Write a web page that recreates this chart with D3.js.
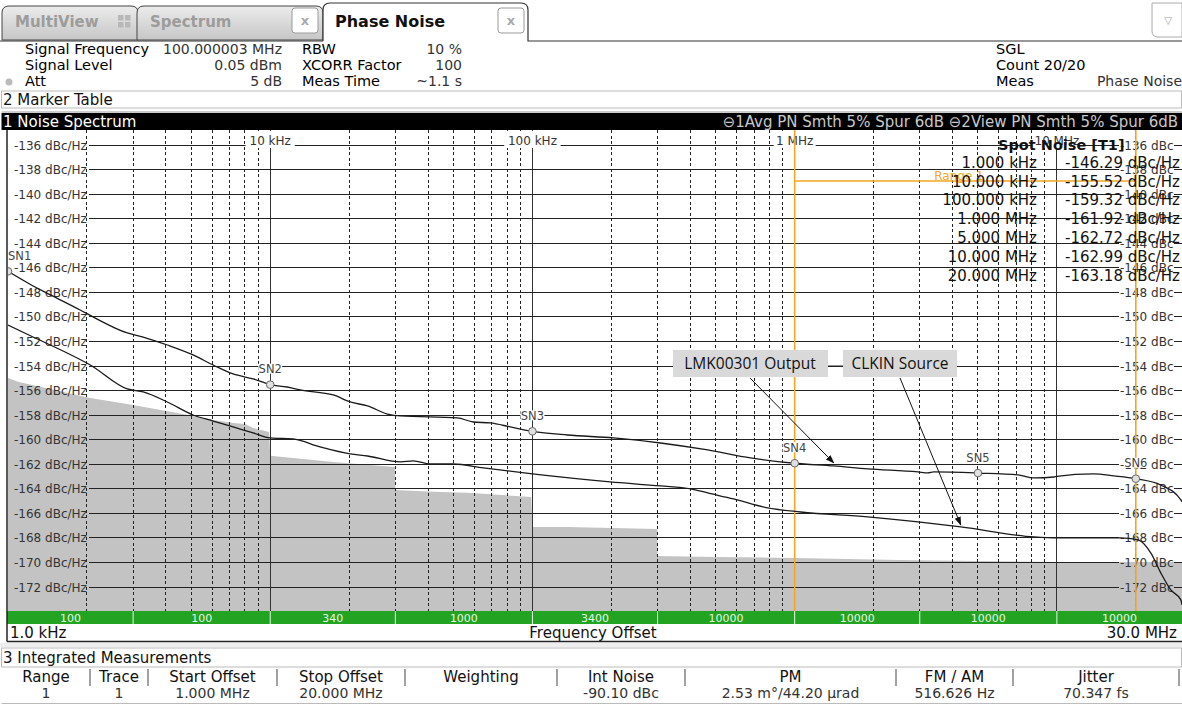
<!DOCTYPE html>
<html><head><meta charset="utf-8">
<script src="https://cdn.jsdelivr.net/npm/d3@7"></script>
<style>
html,body{margin:0;padding:0;background:#fff;overflow:hidden}
svg{display:block;font-family:"DejaVu Sans",Verdana,sans-serif}
</style></head><body>
<svg id="c" width="1182" height="706"></svg>
<script>
// ---------------- DATA ----------------
const freqDomain = [1e3, 3e7];
const dbTicks = [-136,-138,-140,-142,-144,-146,-148,-150,-152,-154,-156,-158,-160,-162,-164,-166,-168,-170,-172];
const decadeFreqs = [1e4, 1e5, 1e6, 1e7];
const decadeLabels = ["10 kHz", "100 kHz", "1 MHz", "10 MHz"];
const rbwBounds = [1e3, 3e3, 1e4, 3e4, 1e5, 3e5, 1e6, 3e6, 1e7, 3e7];
const rbwLabels = ["100", "100", "340", "1000", "3400", "10000", "10000", "10000", "10000"];

// Trace 1: LMK00301 Output  [offset Hz, dBc/Hz]
const traceOutput = [
  [1000,-146.29],[1213,-147.34],[1446,-148.19],[1883,-149.44],[2110,-150.0],[2850,-151.31],
  [3280,-151.64],[4050,-152.29],[5080,-153.10],[6060,-153.92],[7220,-154.65],[8610,-155.05],
  [10000,-155.52],[11600,-155.71],[13000,-155.95],[17400,-156.36],[20200,-156.93],[23500,-157.25],
  [28000,-157.91],[31400,-158.07],[51700,-158.23],[59500,-158.56],[69100,-158.64],[82400,-158.96],
  [100000,-159.32],[136000,-159.62],[204000,-159.86],[308000,-160.27],[466000,-160.84],[679000,-161.49],
  [1000000,-161.92],[1410000,-162.14],[1900000,-162.38],[2950000,-162.63],[3220000,-162.71],[3390000,-162.63],
  [5000000,-162.72],[7100000,-162.87],[8170000,-163.12],[9740000,-163.04],[10000000,-162.99],
  [13800000,-162.79],[16500000,-162.95],[20000000,-163.18],[24900000,-163.69],[29700000,-164.91],[30000000,-165.07]
];
// Trace 2: CLKIN Source
const traceSource = [
  [1000,-150.66],[1246,-151.64],[1680,-152.94],[2060,-153.92],[2850,-155.87],[3280,-156.11],
  [4050,-156.93],[5080,-157.99],[6060,-158.48],[7220,-158.96],[8610,-159.45],[10000,-159.86],
  [12200,-159.94],[15500,-160.59],[20200,-161.16],[23500,-161.33],[31400,-161.81],[35100,-161.73],
  [40800,-161.98],[49900,-161.98],[65000,-162.30],[100000,-162.79],[198000,-163.44],[308000,-163.77],
  [401000,-164.01],[466000,-164.34],[585000,-164.83],[789000,-165.56],[1054000,-165.89],[1900000,-166.29],
  [4300000,-167.11],[8170000,-167.92],[10000000,-168.0],[17500000,-168.0],[20400000,-168.17],
  [22800000,-169.22],[24900000,-170.85],[27200000,-172.24],[29700000,-173.05],[30000000,-173.46]
];
// Cross-correlation floor (gray)
const floorTrace = [
  [1000,-154.97],[1100,-155.3],[2060,-156.6],[3000,-157.17],[4420,-157.82],[6060,-158.39],
  [7220,-158.64],[8030,-158.72],[8610,-159.05],[9900,-159.37],[10000,-161.32],[17400,-161.81],
  [29900,-162.22],[30000,-164.09],[41900,-164.25],[56500,-164.33],[99000,-164.66],[100000,-167.11],
  [136000,-167.11],[299000,-167.27],[300000,-169.47],[500000,-169.55],[1000000,-169.63],
  [2500000,-169.80],[10000000,-169.96],[30000000,-169.96]
];
const markerNames = ["SN1","SN2","SN3","SN4","SN5","SN6"];
const markerFreqs = [1e3, 1e4, 1e5, 1e6, 5e6, 2e7];
const markerVals = [-146.29, -155.52, -159.32, -161.92, -162.72, -163.18];
const spotFreqLabels = ["1.000 kHz","10.000 kHz","100.000 kHz","1.000 MHz","5.000 MHz","10.000 MHz","20.000 MHz"];
const spotValueLabels = ["-146.29 dBc/Hz","-155.52 dBc/Hz","-159.32 dBc/Hz","-161.92 dBc/Hz","-162.72 dBc/Hz","-162.99 dBc/Hz","-163.18 dBc/Hz"];
const rangeStart = 1e6, rangeStop = 2e7;
const intHeaders = ["Range","Trace","Start Offset","Stop Offset","Weighting","Int Noise","PM","FM / AM","Jitter"];
const intValues = ["1","1","1.000 MHz","20.000 MHz","","-90.10 dBc","2.53 m°/44.20 µrad","516.626 Hz","70.347 fs"];
const intSeps = [90,148,277,405,557,685,896,1013,1179];

// ---------------- LAYOUT ----------------
const svg = d3.select("#c");
const PL = 7, PR = 1182, PT = 130, PB = 611;
const x = d3.scaleLog().domain(freqDomain).range([8, 1182]);
const y = d3.scaleLinear().domain([-136, -172]).range([145, 587]);
const ORANGE = "#f5a623";
const defs = svg.append("defs");
const g1 = defs.append("linearGradient").attr("id","tabg").attr("x1",0).attr("y1",0).attr("x2",0).attr("y2",1);
g1.append("stop").attr("offset","0%").attr("stop-color","#ececec");
g1.append("stop").attr("offset","100%").attr("stop-color","#c6c6c6");
defs.append("clipPath").attr("id","pclip").append("rect").attr("x",PL+1).attr("y",PT).attr("width",PR-PL).attr("height",PB-PT);
defs.append("marker").attr("id","arr").attr("viewBox","0 0 10 10").attr("refX",9).attr("refY",5)
  .attr("markerWidth",9).attr("markerHeight",9).attr("orient","auto-start-reverse")
  .append("path").attr("d","M0,1.5 L10,5 L0,8.5 z").attr("fill","#111");

// ---- tabs ----
function tabPath(x0,x1,y0,y1,r){return `M${x0},${y1} L${x0},${y0+r} Q${x0},${y0} ${x0+r},${y0} L${x1-r},${y0} Q${x1},${y0} ${x1},${y0+r} L${x1},${y1}`;}
const tabs = svg.append("g");
tabs.append("path").attr("d",tabPath(2,138,6,40,7)+" Z").attr("fill","url(#tabg)").attr("stroke","#444");
tabs.append("path").attr("d",tabPath(137,323,6,40,7)+" Z").attr("fill","url(#tabg)").attr("stroke","#444");
tabs.append("path").attr("d",tabPath(323,528,3,41,7)+` L1182,41`).attr("fill","#fff").attr("stroke","#333").attr("stroke-width",1.2);
tabs.append("line").attr("x1",0).attr("x2",323).attr("y1",41).attr("y2",41).attr("stroke","#333");
tabs.append("text").attr("x",15).attr("y",27).attr("font-size",15).attr("font-weight","bold").attr("fill","#9c9c9c").text("MultiView");
[[118,15],[125,15],[118,22],[125,22]].forEach(p=>tabs.append("rect").attr("x",p[0]).attr("y",p[1]).attr("width",5.5).attr("height",5.5).attr("fill","#b8b8b8"));
tabs.append("text").attr("x",150).attr("y",27).attr("font-size",15).attr("font-weight","bold").attr("fill","#9c9c9c").text("Spectrum");
tabs.append("text").attr("x",335).attr("y",27).attr("font-size",16).attr("font-weight","bold").attr("fill","#111").text("Phase Noise");
[[292,8],[498,8]].forEach(p=>{
  tabs.append("rect").attr("x",p[0]).attr("y",p[1]).attr("width",26).attr("height",25).attr("rx",3).attr("fill","#fff").attr("stroke","#999");
  tabs.append("text").attr("x",p[0]+13).attr("y",p[1]+17).attr("text-anchor","middle").attr("font-size",13).attr("font-weight","bold").attr("fill","#aaa").text("x");
});
tabs.append("path").attr("d","M1152,3 L1182,3 L1182,37 L1158,37 Q1152,37 1152,31 Z").attr("fill","#fff").attr("stroke","#aaa");
tabs.append("text").attr("x",1168).attr("y",24).attr("text-anchor","middle").attr("font-size",10).attr("fill","#999").text("▽");

// ---- header info ----
const hdr = svg.append("g").attr("font-size",14.5);
const hRows = [54,70,86];
[["Signal Frequency","100.000003 MHz","RBW","10 %"],["Signal Level","0.05 dBm","XCORR Factor","100"],["Att","5 dB","Meas Time","~1.1 s"]].forEach((r,i)=>{
  hdr.append("text").attr("x",25).attr("y",hRows[i]).attr("fill","#000").text(r[0]);
  hdr.append("text").attr("x",282).attr("y",hRows[i]).attr("text-anchor","end").attr("font-size",14).attr("fill","#333").text(r[1]);
  hdr.append("text").attr("x",302).attr("y",hRows[i]).attr("fill","#000").text(r[2]);
  hdr.append("text").attr("x",462).attr("y",hRows[i]).attr("text-anchor","end").attr("font-size",14).attr("fill","#333").text(r[3]);
});
hdr.append("circle").attr("cx",9).attr("cy",82).attr("r",3.5).attr("fill","#bbb");
hdr.append("text").attr("x",996).attr("y",54).attr("fill","#000").text("SGL");
hdr.append("text").attr("x",996).attr("y",70).attr("fill","#000").text("Count 20/20");
hdr.append("text").attr("x",996).attr("y",86).attr("fill","#000").text("Meas");
hdr.append("text").attr("x",1182).attr("y",86).attr("text-anchor","end").attr("font-size",14).attr("fill","#333").text("Phase Noise");

// ---- marker table bar & black bar ----
svg.append("rect").attr("x",1.5).attr("y",91).attr("width",1180).attr("height",17).attr("fill","#fff").attr("stroke","#bbb");
svg.append("text").attr("x",3).attr("y",105).attr("font-size",15).attr("fill","#111").text("2 Marker Table");
svg.append("rect").attr("x",1.5).attr("y",111).attr("width",1180.5).attr("height",2).attr("fill","#ccc");
svg.append("rect").attr("x",1.5).attr("y",113).attr("width",1180.5).attr("height",17).attr("fill","#000");
svg.append("text").attr("x",3).attr("y",127).attr("font-size",15).attr("fill","#fff").text("1 Noise Spectrum");
svg.append("text").attr("x",1178).attr("y",127).attr("font-size",15).attr("text-anchor","end").attr("fill","#c8c8c8")
  .text("⊖1Avg PN Smth 5% Spur 6dB ⊖2View PN Smth 5% Spur 6dB");

// ---- plot ----
const plot = svg.append("g");
plot.append("rect").attr("x",PL).attr("y",PT).attr("width",PR-PL).attr("height",PB-PT).attr("fill","#fff");
const area = d3.area().x(d=>x(d[0])).y0(PB).y1(d=>y(d[1]));
plot.append("path").datum(floorTrace).attr("d",area).attr("fill","#c3c3c3").attr("clip-path","url(#pclip)");

// vertical grid
const minor = [];
[1e3,1e4,1e5,1e6,1e7].forEach(dec=>{for(let m=2;m<=9;m++){const f=dec*m; if(f<3e7) minor.push(f);}});
plot.selectAll(".vmin").data(minor).join("line").attr("x1",d=>x(d)).attr("x2",d=>x(d)).attr("y1",PT).attr("y2",PB)
  .attr("stroke","#222").attr("stroke-dasharray","3,2.5").attr("shape-rendering","crispEdges");
plot.selectAll(".vmaj").data(decadeFreqs).join("line").attr("x1",d=>x(d)).attr("x2",d=>x(d)).attr("y1",PT).attr("y2",PB)
  .attr("stroke","#333").attr("shape-rendering","crispEdges");
// horizontal grid
plot.selectAll(".h1").data(dbTicks).join("line").attr("x1",89).attr("x2",1119).attr("y1",d=>y(d)).attr("y2",d=>y(d))
  .attr("stroke","#222").attr("shape-rendering","crispEdges");
plot.selectAll(".h2").data(dbTicks).join("line").attr("x1",1174).attr("x2",PR).attr("y1",d=>y(d)).attr("y2",d=>y(d))
  .attr("stroke","#222").attr("shape-rendering","crispEdges");

// decade labels with knockout
const dl = plot.selectAll(".dl").data(decadeFreqs).join("g");
dl.append("rect").attr("x",(d,i)=>x(d)-decadeLabels[i].length*3.6-3).attr("y",PT+1).attr("width",(d,i)=>decadeLabels[i].length*7.2+6).attr("height",17).attr("fill","#fff");
dl.append("text").attr("x",d=>x(d)).attr("y",PT+15).attr("text-anchor","middle").attr("font-size",12).attr("fill","#333").text((d,i)=>decadeLabels[i]);

// y labels
plot.selectAll(".yl").data(dbTicks).join("text").attr("x",14).attr("y",d=>y(d)+4.5).attr("font-size",12).attr("fill","#333").text(d=>`${d} dBc/Hz`);
plot.selectAll(".yr").data(dbTicks).join("text").attr("x",1120).attr("y",d=>y(d)+4.5).attr("font-size",12).attr("fill","#333").text(d=>`${d} dBc`);

// orange range lines
const rangeBarY = 181;
plot.append("line").attr("x1",x(rangeStart)).attr("x2",x(rangeStart)).attr("y1",PT).attr("y2",PB).attr("stroke",ORANGE).attr("stroke-width",1.6);
plot.append("line").attr("x1",x(rangeStop)).attr("x2",x(rangeStop)).attr("y1",PT).attr("y2",PB).attr("stroke",ORANGE).attr("stroke-width",1.6);
plot.append("line").attr("x1",x(rangeStart)).attr("x2",x(rangeStop)).attr("y1",rangeBarY).attr("y2",rangeBarY).attr("stroke",ORANGE).attr("stroke-width",1.6);
plot.append("text").attr("x",959).attr("y",rangeBarY-1).attr("text-anchor","middle").attr("font-size",12).attr("fill",ORANGE).text("Range 1");

// traces
const line = d3.line().x(d=>x(d[0])).y(d=>y(d[1])).curve(d3.curveMonotoneX);
plot.append("path").datum(traceSource).attr("d",line).attr("fill","none").attr("stroke","#1a1a1a").attr("stroke-width",1.3).attr("clip-path","url(#pclip)");
plot.append("path").datum(traceOutput).attr("d",line).attr("fill","none").attr("stroke","#1a1a1a").attr("stroke-width",1.3).attr("clip-path","url(#pclip)");

// markers
const mk = plot.append("g").attr("clip-path","url(#pclip)");
mk.selectAll("circle").data(markerFreqs).join("circle").attr("cx",d=>x(d)).attr("cy",(d,i)=>y(markerVals[i])).attr("r",3.8)
  .attr("fill","#e0e0e0").attr("stroke","#666").attr("stroke-width",1);
const ml = plot.selectAll(".ml").data(markerFreqs).join("g");
ml.append("rect").attr("x",(d,i)=>i===0?x(d)-1:x(d)-12).attr("y",(d,i)=>y(markerVals[i])-21).attr("width",24).attr("height",10).attr("fill","#fff");
ml.append("text").attr("x",(d,i)=>i===0?x(d):x(d)).attr("y",(d,i)=>y(markerVals[i])-11.5).attr("text-anchor",(d,i)=>i===0?"start":"middle")
  .attr("font-size",11.5).attr("fill","#444").text((d,i)=>markerNames[i]);

// spot noise table
const sp = plot.append("g").attr("font-size",15).attr("fill","#111");
sp.append("text").attr("x",998).attr("y",150).attr("font-weight","bold").attr("font-size",14.5).text("Spot Noise [T1]");
const rowY = [168,187,205,224,243,262,281];
sp.selectAll(".sf").data(spotFreqLabels).join("text").attr("x",1037).attr("y",(d,i)=>rowY[i]).attr("text-anchor","end").text(d=>d);
sp.selectAll(".sv").data(spotValueLabels).join("text").attr("x",1180).attr("y",(d,i)=>rowY[i]).attr("text-anchor","end").text(d=>d);

// annotations
const ann = plot.append("g").attr("font-family","'Open Sans','Noto Sans',sans-serif");
ann.append("line").attr("x1",828).attr("x2",843).attr("y1",366).attr("y2",366).attr("stroke","#222");
ann.append("line").attr("x1",750).attr("y1",378).attr("x2",x(1.41e6)).attr("y2",y(-162.14)-3).attr("stroke","#111").attr("marker-end","url(#arr)");
ann.append("line").attr("x1",900).attr("y1",378).attr("x2",x(4.3e6)).attr("y2",y(-167.11)-2).attr("stroke","#111").attr("marker-end","url(#arr)");
ann.append("rect").attr("x",673).attr("y",350).attr("width",155).attr("height",27).attr("fill","#d9d9d9");
ann.append("text").attr("x",750).attr("y",369).attr("text-anchor","middle").attr("font-size",15.5).attr("fill","#111").text("LMK00301 Output");
ann.append("rect").attr("x",843).attr("y",350).attr("width",114).attr("height",27).attr("fill","#d9d9d9");
ann.append("text").attr("x",900).attr("y",369).attr("text-anchor","middle").attr("font-size",15.5).attr("fill","#111").text("CLKIN Source");

// green RBW bar
const gb = svg.append("g");
gb.append("rect").attr("x",PL).attr("y",PB).attr("width",PR-PL).attr("height",13).attr("fill","#22a322");
gb.selectAll(".sep").data(rbwBounds.slice(1,-1)).join("line").attr("x1",d=>x(d)).attr("x2",d=>x(d)).attr("y1",PB).attr("y2",PB+13).attr("stroke","#e8f8e8").attr("stroke-width",1);
gb.selectAll(".rl").data(rbwLabels).join("text").attr("x",(d,i)=>(x(rbwBounds[i])+x(rbwBounds[i+1]))/2).attr("y",PB+11)
  .attr("text-anchor","middle").attr("font-size",11).attr("fill","#e4f7e4").text(d=>d);
// axis footer
svg.append("text").attr("x",10).attr("y",638).attr("font-size",15).attr("fill","#111").text("1.0 kHz");
svg.append("text").attr("x",593).attr("y",638).attr("text-anchor","middle").attr("font-size",15).attr("fill","#111").text("Frequency Offset");
svg.append("text").attr("x",1177).attr("y",638).attr("text-anchor","end").attr("font-size",15).attr("fill","#111").text("30.0 MHz");
svg.append("line").attr("x1",PL).attr("x2",PR).attr("y1",641.5).attr("y2",641.5).attr("stroke","#222").attr("stroke-width",1.5);
svg.append("line").attr("x1",PL).attr("x2",PL).attr("y1",PT).attr("y2",641.5).attr("stroke","#222").attr("stroke-width",1.5);
svg.append("rect").attr("x",0).attr("y",643).attr("width",1182).attr("height",4).attr("fill","#eee");

// integrated measurements
svg.append("rect").attr("x",1.5).attr("y",648).attr("width",1180).attr("height",19).attr("fill","#fff").attr("stroke","#bbb");
svg.append("text").attr("x",3).attr("y",663).attr("font-size",15).attr("fill","#111").text("3 Integrated Measurements");
const colL = [2].concat(intSeps.slice(0,-1));
const colC = intSeps.map((s,i)=>(colL[i]+s)/2);
svg.selectAll(".ih").data(intHeaders).join("text").attr("x",(d,i)=>colC[i]).attr("y",682).attr("text-anchor","middle").attr("font-size",15).attr("fill","#111").text(d=>d);
svg.selectAll(".iv").data(intValues).join("text").attr("x",(d,i)=>colC[i]).attr("y",698).attr("text-anchor","middle").attr("font-size",14).attr("fill","#333").text(d=>d);
svg.selectAll(".is").data(intSeps).join("line").attr("x1",d=>d).attr("x2",d=>d).attr("y1",669).attr("y2",686).attr("stroke","#444");
svg.append("line").attr("x1",1.5).attr("x2",1182).attr("y1",703.5).attr("y2",703.5).attr("stroke","#bbb");
</script></body></html>
